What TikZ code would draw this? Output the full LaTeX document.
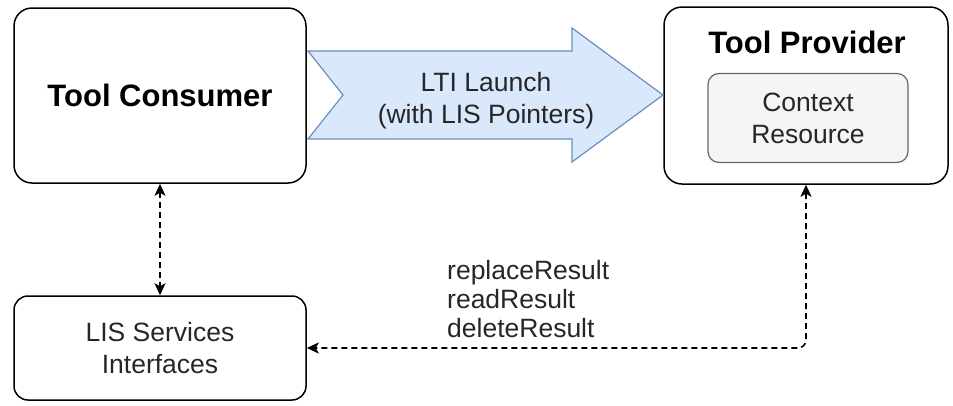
\documentclass[tikz,border=0pt]{standalone}
\usepackage{fontspec}
\setmainfont{Liberation Sans}
\usetikzlibrary{arrows.meta}
\definecolor{launchfill}{HTML}{DAE8FC}
\definecolor{launchdraw}{HTML}{6C8EBF}

\begin{document}
\begin{tikzpicture}[x=1pt,y=-1pt,>={Stealth[length=12pt,width=11pt,inset=3pt]}]
		\tikzstyle{BoxStyle}=[draw=black,line width=1.5pt,rounded corners=18pt,inner sep=0pt]
		\tikzstyle{TitleStyle}=[font=\fontsize{31}{36}\selectfont\bfseries,inner sep=0pt]
		\tikzstyle{TextStyle}=[font=\fontsize{26.5}{32}\selectfont,text=black!85,align=center,inner sep=0pt]
		\tikzstyle{LinkStyle}=[draw=black,line width=1.6pt,dash pattern=on 6pt off 4pt,<->]
		\useasboundingbox (0,0) rectangle (953,405);
		% boxes
		\node[BoxStyle,TitleStyle,minimum width=292pt,minimum height=175pt] (consumer) at (160,95.5) {Tool Consumer};
		\node[BoxStyle,minimum width=284pt,minimum height=177pt] (provider) at (806,95.5) {};
		\node[TitleStyle] (provtitle) at (807,42) {Tool Provider};
		\node[BoxStyle,TextStyle,draw=black!60,fill=black!4,line width=1.2pt,rounded corners=11pt,
			minimum width=200pt,minimum height=89pt] (context) at (808,118) {Context\\Resource};
		\node[BoxStyle,TextStyle,rounded corners=14pt,minimum width=292pt,minimum height=104pt] (lis) at (160,348) {LIS Services\\Interfaces};
		% launch arrow
		\draw[fill=launchfill,draw=launchdraw,line width=1.2pt,line join=miter]
			(308,51) -- (572,51) -- (572,28) -- (663,95) -- (572,162) -- (572,139) -- (308,139) -- (343,95) -- cycle;
		\node[TextStyle] (launch) at (486,101) {LTI Launch\\(with LIS Pointers)};
		% services
		\node[TextStyle,align=left,anchor=west,font=\fontsize{26.5}{29}\selectfont] (ops) at (447,299)
			{replaceResult\\readResult\\deleteResult};
		\draw[LinkStyle] (consumer.south) -- (lis.north);
		\draw[LinkStyle,rounded corners=8pt] (provider.south) -- (provider.south |- lis.east) -- (lis.east);
	\end{tikzpicture}
\end{document}
